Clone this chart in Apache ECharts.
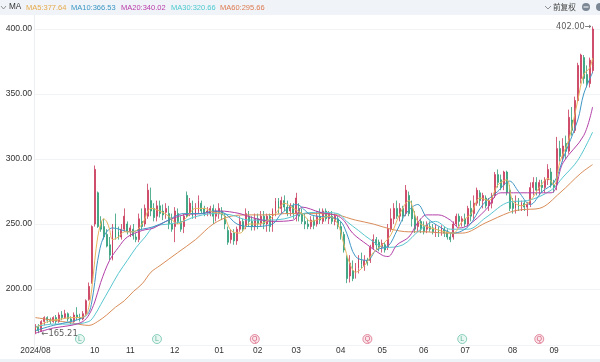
<!DOCTYPE html>
<html><head><meta charset="utf-8">
<style>html,body{margin:0;padding:0;background:#fff}#c{width:600px;height:362px;filter:blur(0.35px)}</style>
<script src="https://cdn.jsdelivr.net/npm/echarts@6/dist/echarts.min.js"></script>
</head><body><div id="c"></div>
<script>
// open, close, low, high
const candleRows = [
[167,172,165.21,173],[171,168,166,173],[168,175,167,176],[175,178,172,179],[178,176,174,179],[176,175,173,178],[175,178,174,179],[178,175,173,180],[175,180,174,182],[180,178,176,183],
[178,181,177,184],[181,177,175,182],[177,175,173,179],[175,180,174,182],[180,178,176,186],[178,177,175,181],[177,181,176,183],[181,191,180,192],[192,202,191,205],[205,248,204,249],
[250,292,248,295],[274,248,247,275],[252,246,244,256],[248,240,238,254],[242,233,232,246],[234,226,222,240],[223,245,222,250],[250,240,238,258],[244,240,238,248],[240,246,238,250],
[246,256,244,262],[250,244,242,252],[244,247,240,249],[246,241,238,250],[240,238,236,243],[238,254,236,258],[252,248,246,262],[250,262,248,265],[256,276,254,281],[268,260,256,278],
[262,255,252,266],[256,264,252,268],[264,258,255,268],[260,257,253,265],[259,262,254,266],[258,250,246,264],[250,246,244,258],[248,260,236,263],[258,252,250,262],[252,246,244,256],
[248,256,243,258],[272,256,255,275],[258,266,256,270],[264,256,254,268],[256,262,254,266],[260,268,258,272],[266,260,258,268],[262,258,256,264],[259,260,256,263],[258,262,256,264],
[262,256,250,265],[256,260,252,262],[258,262,254,266],[260,257,253,263],[256,250,246,258],[245,236,234,248],[238,243,235,246],[243,237,234,246],[237,246,234,248],[246,252,244,256],
[252,246,244,254],[248,258,246,262],[256,252,248,260],[252,248,245,256],[248,254,245,258],[254,250,246,258],[250,256,248,260],[256,250,246,260],[250,256,244,258],[256,248,244,258],
[248,260,244,262],[260,268,256,270],[268,262,258,270],[262,268,258,271],[268,263,260,272],[263,258,256,268],[260,264,256,266],[264,258,254,266],[258,270,252,274],[262,256,252,266],
[258,252,250,262],[252,250,246,258],[250,248,246,254],[248,253,246,256],[253,249,246,256],[250,256,248,260],[256,253,250,262],[252,260,250,262],[260,254,252,262],[254,258,250,260],
[256,252,250,260],[252,256,249,258],[254,248,246,256],[248,242,238,252],[242,230,228,244],[224,208,204.5,226],[210,220,205,226],[214,208,206,222],[212,216,208,220],[216,224,212,226],
[222,219,216,228],[218,222,214,226],[222,220,218,224],[222,232,220,234],[232,238,230,242],[238,234,230,240],[236,232,229,238],[232,235,228,238],[234,230,228,236],[232,246,230,250],
[246,254,244,262],[254,262,250,266],[262,256,254,268],[256,262,252,266],[262,256,252,264],[258,276,256,280],[272,258,256,275],[262,254,248,268],[256,246,243,260],[248,252,244,256],
[252,246,243,254],[248,244,242,252],[246,250,243,252],[248,246,244,252],[247,244,242,250],[246,248,240,250],[246,243,240,248],[244,247,241,249],[246,243,240,248],[244,240,238,246],
[240,238,236,243],[240,250,238,252],[250,256,248,258],[256,252,248,258],[252,254,248,256],[254,250,248,258],[250,262,248,264],[262,256,252,268],[258,266,254,272],[266,276,264,278],
[274,268,264,276],[268,272,262,274],[270,264,262,272],[264,268,260,270],[266,272,262,274],[272,288,270,290],[288,282,278,292],[284,278,276,288],[280,290,276,291],[290,274,272,291],
[276,262,260,280],[266,262,258,270],[262,268,258,272],[268,263,260,270],[264,266,260,268],[266,263,260,268],[263,265,256,267],[265,278,263,282],[278,282,272,286],[282,276,272,286],
[276,282,272,284],[280,278,274,284],[278,284,274,286],[284,292,280,296],[290,280,278,293],[280,278,274,284],[280,308,276,317],[308,302,298,314],[302,310,298,316],[312,306,300,318],
[306,332,304,338],[330,322,318,340],[322,345,320,348],[345,372,344,374],[362,380,358,381],[378,362,358,380],[365,358,355,372],[358,376,355,378],[368,400,366,402]
];
const ma5 = [[0,170],[3,174],[6,176],[9,177],[12,178],[15,178],[17,180],[18,186],[19,200],[20,222],[21,240],[22,250],[23,254],[24,252],[25,246],[26,238],[28,240],[30,244],[33,244],[36,250],[39,262],[42,260],[45,256],[48,250],[51,255],[54,262],[57,262],[60,259],[63,258],[66,245],[69,243],[72,250],[75,250],[78,252],[81,258],[84,266],[87,262],[90,258],[93,252],[96,254],[99,256],[102,250],[104,235],[106,220],[108,213],[111,218],[114,228],[117,234],[120,242],[123,258],[126,268],[129,252],[132,248],[135,246],[138,244],[141,243],[144,252],[147,258],[150,270],[153,268],[156,280],[159,284],[161,268],[164,264],[167,268],[170,278],[173,285],[175,280],[177,298],[180,315],[183,345],[185,365],[187,370],[188,377.64]];
const ma10 = [[0,168],[6,172],[12,175],[16,178],[18,182],[19,190],[20,205],[21,222],[23,240],[26,247],[32,244],[36,246],[40,248],[44,252],[50,258],[56,258],[60,260],[64,258],[68,250],[73,248],[80,250],[83,258],[88,265],[93,257],[100,255],[103,252],[105,243],[108,225],[112,222],[115,230],[119,233],[122,245],[125,258],[129,265],[132,255],[137,247],[141,243],[146,248],[151,265],[156,275],[160,283],[163,275],[167,265],[171,275],[175,282],[178,300],[183,330],[185,350],[188,366.53]];
const ma20 = [[0,166],[6,170],[12,172],[16,175],[18,180],[20,190],[22,205],[25,222],[28,232],[31,240],[36,245],[40,247],[44,252],[50,257],[56,258],[62,260],[69,258],[73,255],[80,252],[87,253],[90,263],[96,259],[103,255],[107,243],[112,234],[117,226],[119,225],[122,234],[126,240],[129,251],[132,257],[136,257],[140,253],[143,247],[146,249],[152,261],[157,274],[166,274],[174,274],[178,297],[185,318],[188,340.02]];
const ma30 = [[0,171],[6,173],[12,173],[18,175],[20,180],[22,188],[25,200],[28,212],[31,222],[34,232],[37,240],[40,248],[45,250],[50,252],[53,255],[60,258],[66,257],[72,253],[78,253],[84,254],[90,258],[96,259],[102,258],[105,252],[109,245],[113,238],[118,232],[124,234],[130,246],[135,252],[140,246],[146,246],[152,255],[160,267],[166,268],[174,276],[178,286],[183,299],[188,320.66]];
const ma60 = [[0,178],[6,176],[12,174],[18,172],[21,175],[24,180],[27,186],[30,191],[33,198],[36,204],[39,213],[42,218],[48,228],[54,238],[60,250],[66,256],[72,257],[78,257],[84,258],[90,258],[96,258],[102,257],[105,255],[108,253],[114,250],[120,246],[126,244],[132,244],[138,243],[144,243],[152,251],[160,259],[164,261],[170,262],[177,274],[184,289],[188,295.66]];
const monthTicks = [[0,'2024/08'],[20,'10'],[32,'11'],[47,'12'],[62,'01'],[75,'02'],[88,'03'],[103,'04'],[117,'05'],[131,'06'],[145,'07'],[161,'08'],[175,'09']];
const signalMarks = [[15,'L'],[41,'L'],[74,'Q'],[112,'Q'],[144,'L'],[170,'Q']];
const yTicks = [200,250,300,350,400];
const legendItems = [['MA5:377.64','#e6a94a',26],['MA10:366.53','#3c96c4',71],['MA20:340.02','#b93aa8',121],['MA30:320.66','#4cc9cf',171],['MA60:295.66','#dd7a52',220]];
const categoryCount = 191;

const categories = Array.from({length:categoryCount},(_,i)=>String(i));
const tickMap = new Map(monthTicks);
const lineStyle = (c,w)=>({color:c,width:w||1});
const maSeries = [[ma60,'#d98c58'],[ma30,'#58c6cf'],[ma20,'#b33fa8'],[ma10,'#3f97c6'],[ma5,'#e8b55e']].map(([d,c])=>({
  type:'line',data:d,smooth:0.35,showSymbol:false,symbol:'none',lineStyle:lineStyle(c),silent:true,animation:false,z:3
}));
const chart = echarts.init(document.getElementById('c'),null,{renderer:'canvas'});
chart.setOption({
  animation:false,
  backgroundColor:'#fff',
  grid:{left:34,right:0,top:9.5,height:344.5,containLabel:false,outerBoundsMode:'none'},
  xAxis:{type:'category',data:categories,boundaryGap:true,
    axisLine:{show:false},axisTick:{show:false},splitLine:{show:false},
    axisLabel:{show:true,margin:-7,fontSize:8.4,color:'#333',fontFamily:'Liberation Sans',
      interval:(i)=>tickMap.has(i),formatter:(v,i)=>tickMap.get(i)||''}},
  yAxis:{type:'value',min:150,max:415,interval:50,scale:false,
    axisLine:{show:true,lineStyle:{color:'#eceff2'}},axisTick:{show:false},
    splitLine:{show:true,showMinLine:false,showMaxLine:false,lineStyle:{color:'#f1f3f5',width:1}},
    axisLabel:{margin:2,fontSize:8.6,color:'#333',fontFamily:'Liberation Sans',showMinLabel:false,showMaxLabel:false,
      formatter:v=>yTicks.includes(v)?v.toFixed(2):''}},
  series:[
    {type:'candlestick',data:candleRows,barWidth:1.4,z:2,
      itemStyle:{color:'#c93a5c',color0:'#2e9d78',borderColor:'#c93a5c',borderColor0:'#2e9d78',borderWidth:0.8}},
    ...maSeries,
    {type:'scatter',z:5,symbol:'circle',symbolSize:9,silent:true,
      data:signalMarks.map(([i,t])=>({value:[i,161.5],name:t,
        itemStyle:{color:t==='L'?'#e3f5ef':'#f9dfe5',borderColor:t==='L'?'#4fb79a':'#d4506f',borderWidth:0.8},
        label:{show:true,position:'inside',formatter:t,fontSize:7,color:t==='L'?'#3aa586':'#c93a5c',fontFamily:'Liberation Sans'}}))},
    {type:'scatter',z:6,symbolSize:0,silent:true,
      data:[
        {value:[1,165.21],label:{show:true,position:'right',distance:3,formatter:'←165.21',fontSize:8.4,color:'#333',fontFamily:'DejaVu Sans'}},
        {value:[188,402],label:{show:true,position:'left',distance:1,formatter:'402.00→',fontSize:8.2,color:'#333',fontFamily:'DejaVu Sans'}}
      ]}
  ],
  graphic:[
    {type:'rect',z:10,shape:{x:0,y:0,width:600,height:15},style:{fill:'#f0f4f8'}},
    {type:'rect',z:10,shape:{x:0,y:359,width:600,height:3},style:{fill:'#eef3f8'}},
    {type:'line',z:1,shape:{x1:34,y1:345.5,x2:600,y2:345.5},style:{stroke:'#f1f3f5',lineWidth:1}},
    {type:'polyline',z:11,shape:{points:[[1,6],[3.5,9],[6,6]]},style:{stroke:'#777',lineWidth:0.8,fill:'none'}},
    {type:'text',z:11,x:9,y:3,style:{text:'MA',fontSize:8.2,fill:'#333',fontFamily:'Liberation Sans'}},
    ...legendItems.map(([t,c,x])=>({type:'text',z:11,x:x,y:3.5,style:{text:t,fontSize:7.5,fill:c,fontFamily:'Liberation Sans'}})),
    {type:'polyline',z:11,shape:{points:[[545,6],[548,9],[551,6]]},style:{stroke:'#777',lineWidth:0.8,fill:'none'}},
    {type:'text',z:11,x:553,y:3,style:{text:'前复权',fontSize:7.6,fill:'#444',fontFamily:'Noto Sans CJK SC'}},
    {type:'circle',z:11,shape:{cx:586,cy:7,r:4},style:{fill:'#7b8794'}},
    {type:'line',z:12,shape:{x1:583.5,y1:7,x2:588.5,y2:7},style:{stroke:'#fff',lineWidth:1}},
    {type:'circle',z:11,shape:{cx:600,cy:7,r:4},style:{fill:'#7b8794'}}
  ]
});
</script></body></html>
